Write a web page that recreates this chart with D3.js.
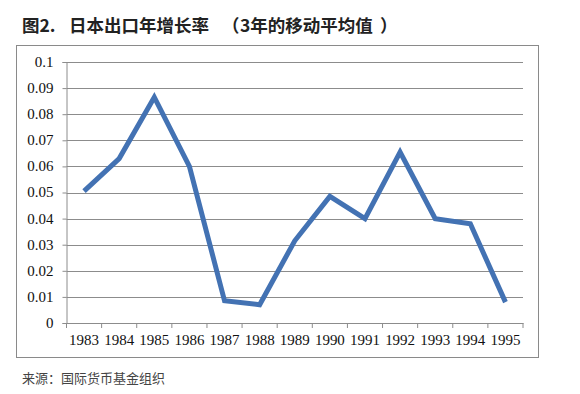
<!DOCTYPE html>
<html>
<head>
<meta charset="utf-8">
<script src="https://d3js.org/d3.v7.min.js"></script>
<style>
  html, body { margin: 0; padding: 0; background: #fff; }
  svg { display: block; }
  .axis text { font-family: "Liberation Serif", serif; font-size: 14px; fill: #111; }
  .axis path, .axis line { stroke: #8c8c8c; }
</style>
</head>
<body>
<script>
"use strict";

// Data
const YEARS = ["1983", "1984", "1985", "1986", "1987", "1988", "1989", "1990", "1991", "1992", "1993", "1994", "1995"];
const VALUES = [0.0505, 0.063, 0.0865, 0.06, 0.0085, 0.007, 0.0315, 0.0485, 0.040, 0.0655, 0.040, 0.038, 0.008];
const Y_TICKS = [0, 0.01, 0.02, 0.03, 0.04, 0.05, 0.06, 0.07, 0.08, 0.09, 0.1];
const TITLE_PARTS = ["图2.", "日本出口年增长率", "（", "3年的移动平均值", "）"];
const SOURCE = "来源：国际货币基金组织";

const WIDTH = 580, HEIGHT = 394;
const PLOT = { left: 66.5, right: 523, top: 62, bottom: 323 };

const svg = d3.select("body").append("svg")
  .attr("width", WIDTH)
  .attr("height", HEIGHT);

// Title, pieces placed to match the original spacing
const TITLE_X = [22, 69, 222, 240, 380];
svg.append("text")
  .attr("y", 32)
  .attr("font-family", "'Noto Sans CJK SC', sans-serif")
  .attr("font-size", 17.5)
  .attr("font-weight", "bold")
  .attr("fill", "#222")
  .selectAll("tspan")
  .data(TITLE_PARTS)
  .enter()
  .append("tspan")
  .attr("x", (d, i) => TITLE_X[i])
  .text(d => d);

// Outer frame
svg.append("rect")
  .attr("x", 16.5)
  .attr("y", 45.5)
  .attr("width", 522)
  .attr("height", 312)
  .attr("fill", "none")
  .attr("stroke", "#8a8a8a")
  .attr("stroke-width", 1);

// Scales
const x = d3.scaleBand().domain(YEARS).range([PLOT.left, PLOT.right]);
const y = d3.scaleLinear().domain([0, 0.1]).range([PLOT.bottom, PLOT.top]);

// Gridlines
svg.append("g")
  .selectAll("line")
  .data(Y_TICKS.filter(d => d > 0))
  .enter()
  .append("line")
  .attr("x1", PLOT.left)
  .attr("x2", PLOT.right)
  .attr("y1", d => Math.round(y(d)) + 0.5)
  .attr("y2", d => Math.round(y(d)) + 0.5)
  .attr("stroke", "#8c8c8c")
  .attr("stroke-width", 1);

// Y axis
const yAxis = svg.append("g")
  .attr("class", "axis")
  .attr("transform", "translate(" + PLOT.left + ",0)")
  .call(d3.axisLeft(y).tickValues(Y_TICKS).tickFormat(d => String(+d.toFixed(2))).tickSizeOuter(0).tickSize(4).tickPadding(9));

// stretch digits a little, the original font is wider
yAxis.selectAll(".tick text")
  .attr("textLength", function() { return this.getComputedTextLength() * 1.07; })
  .attr("lengthAdjust", "spacingAndGlyphs");

// X axis with ticks at band boundaries
const xAxis = svg.append("g")
  .attr("class", "axis")
  .attr("transform", "translate(0," + PLOT.bottom + ")")
  .call(d3.axisBottom(x).tickSize(0).tickSizeOuter(0).tickPadding(12));

xAxis.selectAll(".tick text")
  .attr("textLength", function() { return this.getComputedTextLength() * 1.07; })
  .attr("lengthAdjust", "spacingAndGlyphs");

xAxis.selectAll(".boundary")
  .data(YEARS.concat(["end"]))
  .enter()
  .append("line")
  .attr("x1", (d, i) => i < YEARS.length ? x(d) : PLOT.right)
  .attr("x2", (d, i) => i < YEARS.length ? x(d) : PLOT.right)
  .attr("y1", 0)
  .attr("y2", 5)
  .attr("stroke", "#8c8c8c");

// Line
const line = d3.line()
  .x((d, i) => x(YEARS[i]) + x.bandwidth() / 2)
  .y(d => y(d));

svg.append("path")
  .datum(VALUES)
  .attr("d", line)
  .attr("fill", "none")
  .attr("stroke", "#4372b3")
  .attr("stroke-width", 5)
  .attr("stroke-linejoin", "miter");

// Source
svg.append("text")
  .attr("x", 22)
  .attr("y", 383)
  .attr("font-family", "'Noto Sans CJK SC', sans-serif")
  .attr("font-size", 13)
  .attr("fill", "#444")
  .text(SOURCE);
</script>
</body>
</html>
